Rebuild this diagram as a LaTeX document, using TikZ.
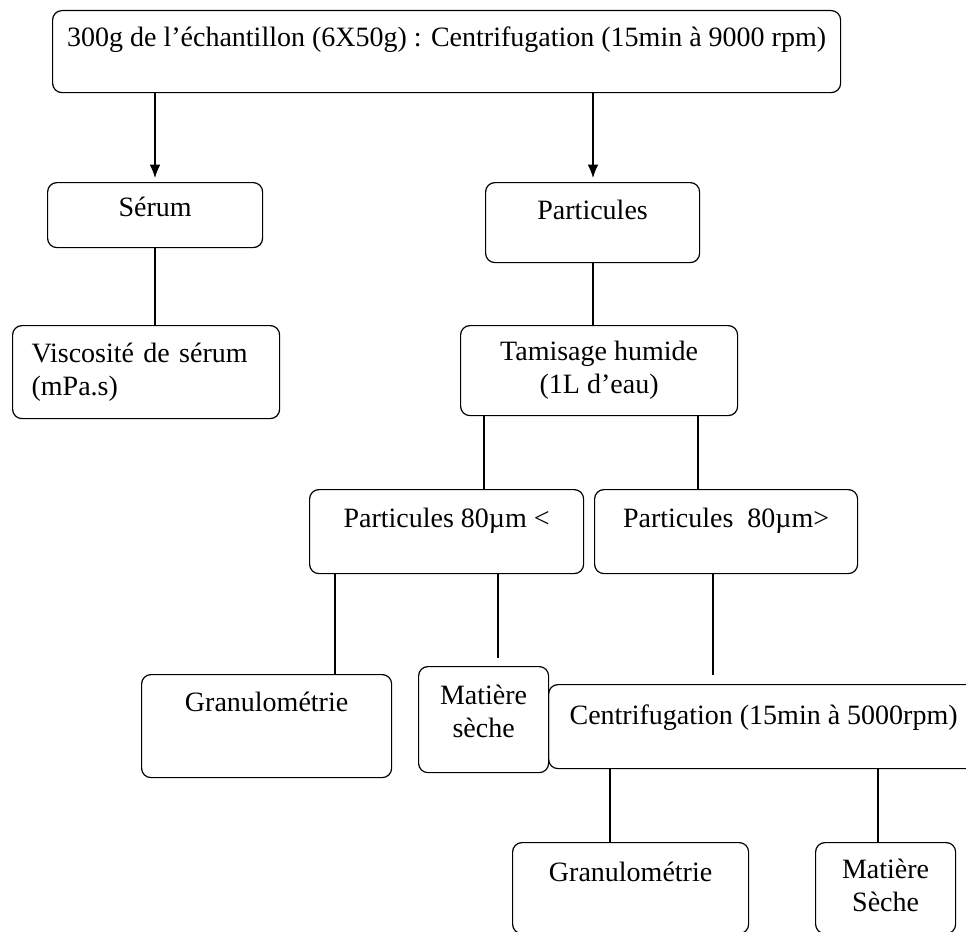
\documentclass[tikz,border=0pt]{standalone}
\usepackage{fontspec}
\setmainfont{Liberation Serif}
\usetikzlibrary{arrows.meta}

\tikzset{
  box/.style={draw, rounded corners=7pt, line width=0.9pt, inner sep=0pt,
    anchor=north west, align=center, font=\fontsize{21}{24.75}\selectfont},
  link/.style={line width=0.9pt},
  arrow/.style={link, -{Latex[length=10pt,width=8pt]}, shorten >=3pt}
}

\begin{document}
\begin{tikzpicture}[x=0.75pt, y=-0.75pt]
\useasboundingbox (0,0) rectangle (966,931);

\node [box, minimum width=591pt, text height=27pt, text depth=34.5pt] (top) at (52,10)
  {300g de l’échantillon (6X50g) : Centrifugation (15min à 9000 rpm)};
\node [box, minimum width=161.25pt, text height=25.5pt, text depth=23.25pt] (serum) at (47,182) {Sérum};
\node [box, minimum width=160.5pt, text height=27.75pt, text depth=32.25pt] (part) at (485,182) {Particules};
\node [box, align=left, text width=171.75pt, inner xsep=14.25pt, minimum height=69.75pt] (visc) at (12,325)
  {Viscosité de sérum\\(mPa.s)};
\node [box, minimum width=207.75pt, minimum height=67.5pt] (tamis) at (460,325) {Tamisage humide\\(1L d’eau)};
\node [box, minimum width=205.5pt, text height=28.5pt, text depth=34.5pt] (pinf) at (309,489) {Particules 80µm <};
\node [box, minimum width=197.25pt, text height=28.5pt, text depth=34.5pt] (psup) at (594,489) {Particules~~80µm>};
\node [box, minimum width=187.5pt, text height=27.75pt, text depth=49.5pt] (gran1) at (141,674) {Granulométrie};
\node [box, minimum width=97.5pt, text height=53.25pt, text depth=26.25pt] (ms1) at (418,666) {Matière\\sèche};
\node [box, minimum width=322.5pt, text height=30pt, text depth=33pt] (centri) at (548,684)
  {Centrifugation (15min à 5000rpm)};
\node [box, minimum width=177pt, text height=29.25pt, text depth=39pt] (gran2) at (512,842) {Granulométrie};
\node [box, minimum width=105pt, text height=51.75pt, text depth=16.5pt] (ms2) at (815,842) {Matière\\Sèche};

\draw [arrow] (top.south -| 155,0) -- (serum.north -| 155,0);
\draw [arrow] (top.south -| 593,0) -- (part.north -| 593,0);
\draw [link] (serum.south -| 155,0) -- (visc.north -| 155,0);
\draw [link] (part.south -| 593,0) -- (tamis.north -| 593,0);
\draw [link] (tamis.south -| 484,0) -- (pinf.north -| 484,0);
\draw [link] (tamis.south -| 698,0) -- (psup.north -| 698,0);
\draw [link] (pinf.south -| 335,0) -- (gran1.north -| 335,0);
\draw [link, shorten >=6pt] (pinf.south -| 498,0) -- (ms1.north -| 498,0);
\draw [link, shorten >=7pt] (psup.south -| 713,0) -- (centri.north -| 713,0);
\draw [link] (centri.south -| 610,0) -- (gran2.north -| 610,0);
\draw [link] (centri.south -| 878,0) -- (ms2.north -| 878,0);
\end{tikzpicture}
\end{document}
